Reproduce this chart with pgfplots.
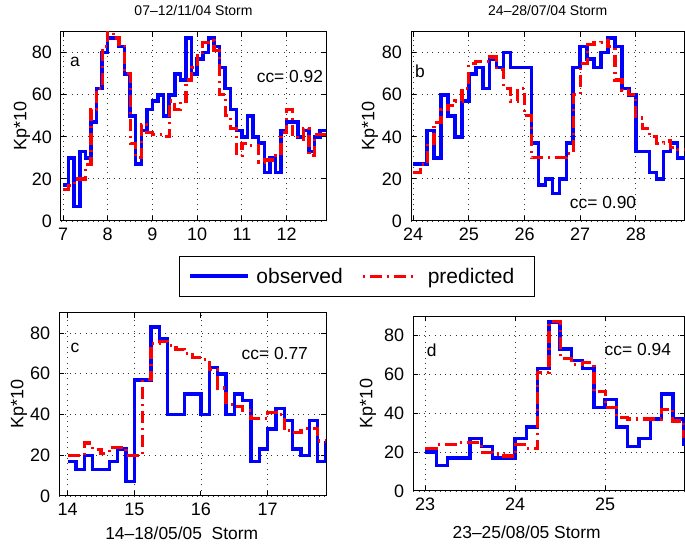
\documentclass[border=0pt]{standalone}
\usepackage{fontspec}
\setmainfont{Liberation Sans}
\usepackage{pgfplots}
\pgfplotsset{compat=1.18}

\definecolor{mblue}{RGB}{0,0,255}
\definecolor{mred}{RGB}{255,0,0}

\tikzset{txt/.style={font=\fontsize{8.7}{10}\selectfont, inner sep=0pt}}
\pgfplotsset{
  kpaxis/.style={
    scale only axis, anchor=south west,
    ymin=0, ymax=90, ytick={0,20,40,60,80},
    grid=major,
    major grid style={black!80, line width=0.45pt, dash pattern=on 0.45pt off 2.2pt},
    axis line style={line width=0.5pt},
    tick style={line width=0.5pt, black},
    tick align=inside, major tick length=2.5pt,
    /pgf/number format/assume math mode=true,
    tick label style={font=\fontsize{9}{10}\selectfont},
    yticklabel style={xshift=-1pt},
    ylabel={Kp*10},
    ylabel style={font=\fontsize{9}{10}\selectfont, anchor=center},
    title style={font=\fontsize{7}{8}\selectfont, at={(axis description cs:0.5,1)}, anchor=base, yshift=2pt},
    xlabel style={font=\fontsize{8.7}{10}\selectfont, anchor=base, yshift=0pt},
  },
  obs/.style={const plot, mblue, line width=1.75pt, mark=none},
  pred/.style={const plot, mred, line width=1.6pt, mark=none, dash pattern=on 6pt off 2.5pt on 1pt off 2.5pt},
}

\begin{document}
\begin{tikzpicture}
\useasboundingbox (0,0) rectangle (342.5pt,272pt);

% ---------------- panel a ----------------
\begin{axis}[kpaxis,
  at={(30.5pt,161.5pt)}, width=132.5pt, height=94.65pt,
  xmin=6.955, xmax=12.88, xtick={7,8,9,10,11,12},
  ylabel style={at={(axis description cs:-0.147,0.5)}},
  title={07--12/11/04 Storm},
  legend columns=2,
  legend style={at={(axis description cs:0.445,-0.185)}, anchor=north west,
    draw=black, line width=0.5pt, fill=white,
    inner xsep=0pt, inner ysep=5pt, column sep=0pt,
    cells={anchor=base west},
    nodes={inner sep=0pt, anchor=base west, text height=8.3pt, text depth=1.7pt,
           font=\fontsize{10.5}{12}\selectfont}},
]
\addplot[obs, legend image code/.code={\path[draw=none,fill=none] (0pt,0pt) rectangle (38.5pt,0.1pt); \draw[mblue, line width=1.75pt] (5.5pt,3.5pt) -- (34.5pt,3.5pt);}]
coordinates {
(7.000,17)(7.125,30)(7.250,7)(7.375,33)(7.500,30)(7.625,47)(7.750,63)(7.875,80)
(8.000,87)(8.125,87)(8.250,83)(8.375,70)(8.500,50)(8.625,27)(8.750,43)(8.875,53)
(9.000,57)(9.125,60)(9.250,50)(9.375,60)(9.500,70)(9.625,67)(9.750,87)(9.875,70)
(10.000,77)(10.125,80)(10.250,87)(10.375,83)(10.500,73)(10.625,63)(10.750,53)(10.875,43)
(11.000,40)(11.125,50)(11.250,40)(11.375,37)(11.500,23)(11.625,30)(11.750,23)(11.875,43)
(12.000,47)(12.125,47)(12.250,40)(12.375,43)(12.500,33)(12.625,40)(12.750,43)(12.875,43)
};
\addlegendentry{observed}
\addplot[pred, legend image code/.code={\path[draw=none,fill=none] (0pt,0pt) rectangle (42.5pt,0.1pt); \draw[mred, line width=1.6pt, dash pattern=on 1pt off 2.5pt on 6pt off 2.5pt] (10pt,3.5pt) -- (37.5pt,3.5pt);}]
coordinates {
(7.000,15)(7.125,17)(7.250,20)(7.375,20)(7.500,27)(7.625,53)(7.750,63)(7.875,83)
(8.000,90)(8.125,87)(8.250,83)(8.375,70)(8.500,37)(8.625,30)(8.750,46)(8.875,42)
(9.000,41)(9.125,41)(9.250,40)(9.375,57)(9.500,53)(9.625,57)(9.750,67)(9.875,73)
(10.000,80)(10.125,85)(10.250,86)(10.375,81)(10.500,60)(10.625,50)(10.750,44)(10.875,31)
(11.000,37)(11.125,36)(11.250,36)(11.375,28)(11.500,29)(11.625,29)(11.750,31)(11.875,42)
(12.000,53)(12.125,41)(12.250,39)(12.375,44)(12.500,31)(12.625,41)(12.750,41)(12.875,41)
};
\addlegendentry{predicted\rule{10pt}{0pt}}
\node[txt, anchor=center] at (rel axis cs:0.053,0.841) {a};
\node[txt, anchor=center] at (rel axis cs:0.864,0.762) {cc= 0.92};
\end{axis}

% ---------------- panel b ----------------
\begin{axis}[kpaxis,
  at={(205.5pt,161.5pt)}, width=136.75pt, height=94.65pt,
  xmin=23.96, xmax=28.875, xtick={24,25,26,27,28},
  ylabel style={at={(axis description cs:-0.15,0.5)}},
  title={24--28/07/04 Storm},
]
\addplot[obs] coordinates {
(24.000,27)(24.125,27)(24.250,43)(24.375,30)(24.500,60)(24.625,50)(24.750,40)(24.875,57)
(25.000,70)(25.125,73)(25.250,63)(25.375,77)(25.500,73)(25.625,80)(25.750,73)(25.875,73)
(26.000,73)(26.125,37)(26.250,17)(26.375,20)(26.500,13)(26.625,20)(26.750,37)(26.875,73)
(27.000,83)(27.125,77)(27.250,73)(27.375,80)(27.500,87)(27.625,83)(27.750,63)(27.875,60)
(28.000,33)(28.125,33)(28.250,23)(28.375,20)(28.500,33)(28.625,37)(28.750,30)(28.875,30)
};
\addplot[pred] coordinates {
(24.000,23)(24.125,27)(24.250,37)(24.375,47)(24.500,53)(24.625,55)(24.750,57)(24.875,63)
(25.000,75)(25.125,76)(25.250,76)(25.375,78)(25.500,72)(25.625,63)(25.750,57)(25.875,63)
(26.000,50)(26.125,30)(26.250,30)(26.375,30)(26.500,30)(26.625,30)(26.750,32)(26.875,60)
(27.000,75)(27.125,84)(27.250,85)(27.375,86)(27.500,83)(27.625,67)(27.750,62)(27.875,60)
(28.000,49)(28.125,44)(28.250,40)(28.375,37)(28.500,38)(28.625,35)(28.750,34)(28.875,34)
};
\node[txt, anchor=center] at (rel axis cs:0.033,0.789) {b};
\node[txt, anchor=center] at (rel axis cs:0.702,0.095) {cc= 0.90};
\end{axis}

% ---------------- panel c ----------------
\begin{axis}[kpaxis,
  at={(29.65pt,24pt)}, width=133.35pt, height=91.65pt,
  xmin=13.875, xmax=17.875, xtick={14,15,16,17},
  ylabel style={at={(axis description cs:-0.151,0.5)}},
  xlabel={14--18/05/05\ \ Storm},
  xlabel style={at={(axis description cs:0.459,0)}, yshift=-22pt},
]
\addplot[obs] coordinates {
(14.000,17)(14.125,13)(14.250,20)(14.375,13)(14.500,13)(14.625,17)(14.750,23)(14.875,7)
(15.000,57)(15.125,57)(15.250,83)(15.375,77)(15.500,40)(15.625,40)(15.750,50)(15.875,50)
(16.000,40)(16.125,63)(16.250,60)(16.375,40)(16.500,50)(16.625,47)(16.750,17)(16.875,23)
(17.000,33)(17.125,43)(17.250,37)(17.375,23)(17.500,20)(17.625,37)(17.750,17)(17.875,27)
};
\addplot[pred] coordinates {
(14.000,20)(14.125,20)(14.250,26)(14.375,23)(14.500,21)(14.625,24)(14.750,24)(14.875,20)
(15.000,20)(15.125,57)(15.250,75)(15.375,76)(15.500,74)(15.625,72)(15.750,70)(15.875,68)
(16.000,67)(16.125,62)(16.250,53)(16.375,45)(16.500,44)(16.625,42)(16.750,38)(16.875,38)
(17.000,41)(17.125,40)(17.250,32)(17.375,31)(17.500,33)(17.625,33)(17.750,27)(17.875,27)
};
\node[txt, anchor=center] at (rel axis cs:0.059,0.809) {c};
\node[txt, anchor=center] at (rel axis cs:0.808,0.78) {cc= 0.77};
\end{axis}

% ---------------- panel d ----------------
\begin{axis}[kpaxis,
  at={(206.65pt,26.5pt)}, width=135.6pt, height=87.5pt,
  xmin=22.87, xmax=25.88, xtick={23,24,25},
  ylabel style={at={(axis description cs:-0.167,0.5)}},
  xlabel={23--25/08/05 Storm},
  xlabel style={at={(axis description cs:0.418,0)}, yshift=-23.7pt},
]
\addplot[obs] coordinates {
(23.000,20)(23.125,13)(23.250,17)(23.375,17)(23.500,27)(23.625,23)(23.750,17)(23.875,17)
(24.000,27)(24.125,33)(24.250,63)(24.375,87)(24.500,73)(24.625,67)(24.750,63)(24.875,43)
(25.000,47)(25.125,33)(25.250,23)(25.375,27)(25.500,37)(25.625,50)(25.750,37)(25.875,23)
};
\addplot[pred] coordinates {
(23.000,22)(23.125,24)(23.250,24)(23.375,25)(23.500,25)(23.625,20)(23.750,19)(23.875,18)
(24.000,24)(24.125,22)(24.250,61)(24.375,87)(24.500,68)(24.625,65)(24.750,66)(24.875,51)
(25.000,43)(25.125,38)(25.250,37)(25.375,37)(25.500,37)(25.625,42)(25.750,36)(25.875,27)
};
\node[txt, anchor=center] at (rel axis cs:0.068,0.806) {d};
\node[txt, anchor=center] at (rel axis cs:0.828,0.806) {cc= 0.94};
\end{axis}
\end{tikzpicture}
\end{document}
